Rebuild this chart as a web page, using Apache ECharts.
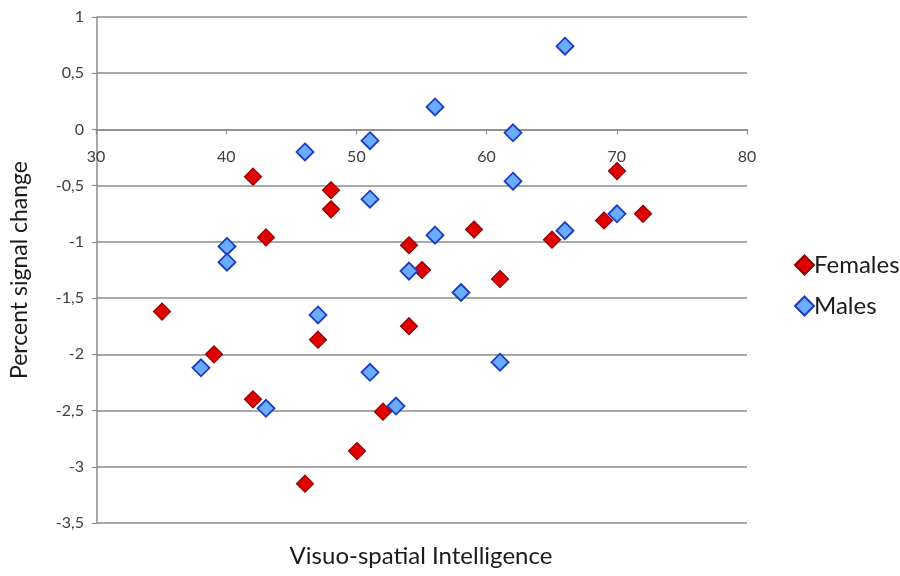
<!DOCTYPE html>
<html><head><meta charset="utf-8">
<script src="https://cdn.jsdelivr.net/npm/echarts@6/dist/echarts.min.js"></script>
<style>html,body{margin:0;padding:0;background:#fff}#c{width:900px;height:576px}</style>
</head><body><div id="c"></div>
<script>
const femalesX = [35, 39, 42, 42, 43, 46, 47, 48, 48, 50, 52, 54, 54, 55, 59, 61, 65, 69, 70, 72];
const femalesY = [-1.62, -2.0, -0.42, -2.4, -0.96, -3.15, -1.87, -0.54, -0.71, -2.86, -2.51, -1.03, -1.75, -1.25, -0.89, -1.33, -0.98, -0.81, -0.37, -0.75];
const malesX = [38, 40, 40, 43, 46, 47, 51, 51, 51, 53, 54, 56, 56, 58, 61, 62, 62, 66, 66, 70];
const malesY = [-2.12, -1.04, -1.18, -2.48, -0.2, -1.65, -0.1, -0.62, -2.16, -2.46, -1.26, 0.2, -0.94, -1.45, -2.07, -0.03, -0.46, 0.74, -0.9, -0.75];
const seriesNames = ['Females', 'Males'];
const xTitle = 'Visuo-spatial Intelligence';
const yTitle = 'Percent signal change';
const xMin = 30, xMax = 80, xStep = 10;
const yMin = -3.5, yMax = 1, yStep = 0.5;

const font = 'Lato, "Open Sans", sans-serif';
const gray = '#8c8c8c';
const pair = (xs, ys) => xs.map((x, i) => [x, ys[i]]);
const W = 900, H = 576, gTop = 17, gBottom = 53, gLeft = 96, gRight = 153;
// second grid whose bottom edge sits on the y = 0 line, used to show the x axis crossing at zero
const plotH = H - gTop - gBottom;
const zeroFromTop = gTop + plotH * (yMax - 0) / (yMax - yMin);

const chart = echarts.init(document.getElementById('c'), null, {renderer: 'canvas'});
chart.setOption({
  animation: false,
  backgroundColor: '#fff',
  grid: [
    {left: gLeft, right: gRight, top: gTop, bottom: gBottom, containLabel: false},
    {left: gLeft, right: gRight, top: gTop, bottom: H - zeroFromTop, containLabel: false}
  ],
  xAxis: [{
    gridIndex: 0, type: 'value', min: xMin, max: xMax, interval: xStep,
    axisLine: {show: false}, axisTick: {show: false}, axisLabel: {show: false}, splitLine: {show: false}
  }, {
    gridIndex: 1, type: 'value', min: xMin, max: xMax, interval: xStep, position: 'bottom',
    axisLine: {show: true, onZero: false, lineStyle: {color: gray, width: 1.5}},
    axisTick: {show: true, inside: false, length: 5, lineStyle: {color: gray, width: 1.2}},
    axisLabel: {color: '#404040', fontSize: 16, fontFamily: font, margin: 19},
    splitLine: {show: false}
  }],
  yAxis: [{
    gridIndex: 0, type: 'value', min: yMin, max: yMax, interval: yStep,
    name: yTitle, nameLocation: 'middle', nameRotate: 90, nameGap: 66,
    nameTextStyle: {color: '#1a1a1a', fontSize: 23, fontFamily: font},
    axisLine: {show: true, onZero: false, lineStyle: {color: gray, width: 1.5}},
    axisTick: {show: true, length: 5, lineStyle: {color: gray, width: 1.2}},
    axisLabel: {color: '#404040', fontSize: 16, fontFamily: font, margin: 13,
      formatter: v => String(Math.round(v * 10) / 10).replace('.', ',')},
    splitLine: {show: true, lineStyle: {color: gray, width: 1.5}}
  }, {
    gridIndex: 1, type: 'value', min: 0, max: yMax, show: false
  }],
  legend: {
    orient: 'vertical', left: 789, top: 248, itemGap: 17,
    itemWidth: 19, itemHeight: 19,
    textStyle: {color: '#1a1a1a', fontSize: 24, fontFamily: font, padding: [0, 0, 0, -5]},
    data: seriesNames.map(n => ({name: n, icon: 'diamond'}))
  },
  graphic: [{
    type: 'text', x: 421, y: 556,
    style: {text: xTitle, fill: '#1a1a1a', fontSize: 24, fontFamily: font, textAlign: 'center', textVerticalAlign: 'middle'}
  }],
  series: [
    {name: seriesNames[0], type: 'scatter', xAxisIndex: 0, yAxisIndex: 0, symbol: 'diamond', symbolSize: 17,
     itemStyle: {color: '#e00000', borderColor: '#900000', borderWidth: 1.2, opacity: 1},
     data: pair(femalesX, femalesY)},
    {name: seriesNames[1], type: 'scatter', xAxisIndex: 0, yAxisIndex: 0, symbol: 'diamond', symbolSize: 17,
     itemStyle: {color: '#6aacff', borderColor: '#1c3cc0', borderWidth: 1.8, opacity: 1},
     data: pair(malesX, malesY)}
  ]
});
</script></body></html>
